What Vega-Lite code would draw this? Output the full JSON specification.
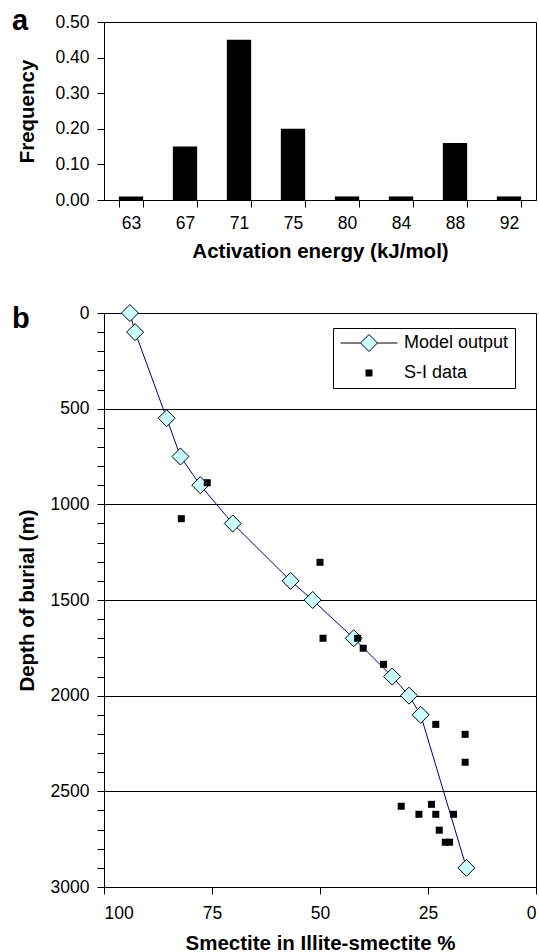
{
  "$schema": "https://vega.github.io/schema/vega-lite/v6.json",
  "padding": {"left": 11, "top": 6, "right": 0, "bottom": 0},
  "spacing": 40,
  "config": {
    "font": "Liberation Sans",
    "view": {"stroke": "#000000", "strokeWidth": 1},
    "axis": {
      "domainColor": "#000000", "tickColor": "#000000", "labelColor": "#000000", "titleColor": "#000000",
      "labelFont": "Liberation Sans", "titleFont": "Liberation Sans",
      "labelFontSize": 17.5, "titleFontSize": 20.5, "titleFontWeight": "bold",
      "tickSize": 7, "domainWidth": 1, "tickWidth": 1
    },
    "legend": {
      "title": null, "orient": "none", "legendX": 229, "legendY": 15,
      "strokeColor": "#000000", "fillColor": "#ffffff", "padding": 6,
      "labelFontSize": 18, "labelFont": "Liberation Sans", "labelColor": "#000000",
      "rowPadding": 10, "symbolOffset": 21, "labelOffset": 26, "symbolStrokeWidth": 1
    },
    "title": {"font": "Liberation Sans", "color": "#000000"}
  },
  "datasets": {
    "freq": [
      {"energy": "63", "frequency": 0.01},
      {"energy": "67", "frequency": 0.15},
      {"energy": "71", "frequency": 0.45},
      {"energy": "75", "frequency": 0.20},
      {"energy": "80", "frequency": 0.01},
      {"energy": "84", "frequency": 0.01},
      {"energy": "88", "frequency": 0.16},
      {"energy": "92", "frequency": 0.01}
    ],
    "depth": [
      {"series": "Model output", "smectite": 94.0, "depth": 0},
      {"series": "Model output", "smectite": 92.8, "depth": 100},
      {"series": "Model output", "smectite": 85.5, "depth": 550},
      {"series": "Model output", "smectite": 82.3, "depth": 750},
      {"series": "Model output", "smectite": 77.7, "depth": 900},
      {"series": "Model output", "smectite": 70.2, "depth": 1100},
      {"series": "Model output", "smectite": 56.8, "depth": 1400},
      {"series": "Model output", "smectite": 51.7, "depth": 1500},
      {"series": "Model output", "smectite": 42.2, "depth": 1700},
      {"series": "Model output", "smectite": 33.3, "depth": 1900},
      {"series": "Model output", "smectite": 29.4, "depth": 2000},
      {"series": "Model output", "smectite": 26.7, "depth": 2100},
      {"series": "Model output", "smectite": 16.1, "depth": 2900},
      {"series": "S-I data", "smectite": 76.1, "depth": 887},
      {"series": "S-I data", "smectite": 82.1, "depth": 1075},
      {"series": "S-I data", "smectite": 50.0, "depth": 1303},
      {"series": "S-I data", "smectite": 49.3, "depth": 1700},
      {"series": "S-I data", "smectite": 41.3, "depth": 1700},
      {"series": "S-I data", "smectite": 40.0, "depth": 1752},
      {"series": "S-I data", "smectite": 35.3, "depth": 1836},
      {"series": "S-I data", "smectite": 23.2, "depth": 2150},
      {"series": "S-I data", "smectite": 16.4, "depth": 2202},
      {"series": "S-I data", "smectite": 16.4, "depth": 2348},
      {"series": "S-I data", "smectite": 31.2, "depth": 2578},
      {"series": "S-I data", "smectite": 24.2, "depth": 2568},
      {"series": "S-I data", "smectite": 27.1, "depth": 2620},
      {"series": "S-I data", "smectite": 23.2, "depth": 2620},
      {"series": "S-I data", "smectite": 19.1, "depth": 2620},
      {"series": "S-I data", "smectite": 22.4, "depth": 2703},
      {"series": "S-I data", "smectite": 21.0, "depth": 2766},
      {"series": "S-I data", "smectite": 20.0, "depth": 2766}
    ]
  },
  "vconcat": [
    {
      "width": 432,
      "height": 178,
      "title": {"text": "a", "anchor": "start", "frame": "group", "fontSize": 29, "fontWeight": "bold", "baseline": "alphabetic", "offset": -46, "dx": -92},
      "data": {"name": "freq"},
      "mark": {"type": "bar", "color": "#000000"},
      "encoding": {
        "x": {
          "field": "energy", "type": "ordinal", "sort": null,
          "scale": {"paddingInner": 0.55, "paddingOuter": 0.275},
          "axis": {"title": "Activation energy (kJ/mol)", "labelAngle": 0, "tickBand": "extent", "labelBaseline": "alphabetic", "labelPadding": 21.7, "titleBaseline": "alphabetic", "titleY": 57}
        },
        "y": {
          "field": "frequency", "type": "quantitative",
          "scale": {"domain": [0, 0.5], "nice": false},
          "axis": {"values": [0, 0.1, 0.2, 0.3, 0.4, 0.5], "format": ".2f", "grid": false, "title": "Frequency", "labelPadding": 8, "titleX": -71, "titleBaseline": "alphabetic"}
        }
      }
    },
    {
      "width": 432,
      "height": 574,
      "title": {"text": "b", "anchor": "start", "frame": "group", "fontSize": 29, "fontWeight": "bold", "baseline": "alphabetic", "offset": -54, "dx": -92},
      "data": {"name": "depth"},
      "resolve": {"scale": {"shape": "independent", "fill": "independent", "stroke": "independent", "size": "independent"}},
      "encoding": {
        "x": {
          "field": "smectite", "type": "quantitative",
          "scale": {"domain": [0, 100], "reverse": true, "nice": false},
          "axis": {"values": [0, 25, 50, 75, 100], "grid": false, "title": "Smectite in Illite-smectite %", "labelBaseline": "alphabetic", "labelPadding": 24, "titleBaseline": "alphabetic", "titleY": 62}
        },
        "y": {
          "field": "depth", "type": "quantitative",
          "scale": {"domain": [0, 3000], "reverse": true, "nice": false},
          "axis": {
            "values": [0,100,200,300,400,500,600,700,800,900,1000,1100,1200,1300,1400,1500,1600,1700,1800,1900,2000,2100,2200,2300,2400,2500,2600,2700,2800,2900,3000],
            "format": "d",
            "labelExpr": "datum.value % 500 === 0 ? datum.label : ''",
            "grid": true, "gridColor": "#000000", "gridWidth": 1,
            "gridOpacity": {"condition": {"test": "datum.value % 500 === 0", "value": 1}, "value": 0},
            "title": "Depth of burial (m)", "labelPadding": 8, "titleX": -71, "titleBaseline": "alphabetic"
          }
        }
      },
      "layer": [
        {
          "transform": [{"filter": "datum.series === 'Model output'"}],
          "mark": {"type": "line", "color": "#000080", "strokeWidth": 1},
          "encoding": {"order": {"field": "depth", "type": "quantitative"}}
        },
        {
          "mark": {"type": "point", "filled": true, "opacity": 1, "strokeWidth": 1},
          "encoding": {
            "shape": {"field": "series", "type": "nominal", "scale": {"domain": ["Model output", "S-I data"], "range": ["diamond", "square"]}, "legend": null},
            "fill": {"field": "series", "type": "nominal", "scale": {"domain": ["Model output", "S-I data"], "range": ["#ccffff", "#000000"]}, "legend": null},
            "stroke": {"field": "series", "type": "nominal", "scale": {"domain": ["Model output", "S-I data"], "range": ["#000000", "transparent"]}, "legend": null},
            "size": {"field": "series", "type": "nominal", "scale": {"type": "ordinal", "domain": ["Model output", "S-I data"], "range": [289, 49]}, "legend": null}
          }
        },
        {
          "transform": [{"filter": "datum.series === 'legend only'"}],
          "mark": {"type": "point", "filled": true, "opacity": 1, "strokeWidth": 1},
          "encoding": {
            "shape": {"field": "series", "type": "nominal", "scale": {"domain": ["Model output", "S-I data"], "range": ["M-3.35,0L-1,0M1,0L3.35,0M-1,0L0,-1L1,0L0,1Z", "square"]}},
            "fill": {"field": "series", "type": "nominal", "scale": {"domain": ["Model output", "S-I data"], "range": ["#ccffff", "#000000"]}},
            "stroke": {"field": "series", "type": "nominal", "scale": {"domain": ["Model output", "S-I data"], "range": ["#000000", "transparent"]}},
            "size": {"field": "series", "type": "nominal", "scale": {"type": "ordinal", "domain": ["Model output", "S-I data"], "range": [289, 49]}}
          }
        }
      ]
    }
  ]
}
